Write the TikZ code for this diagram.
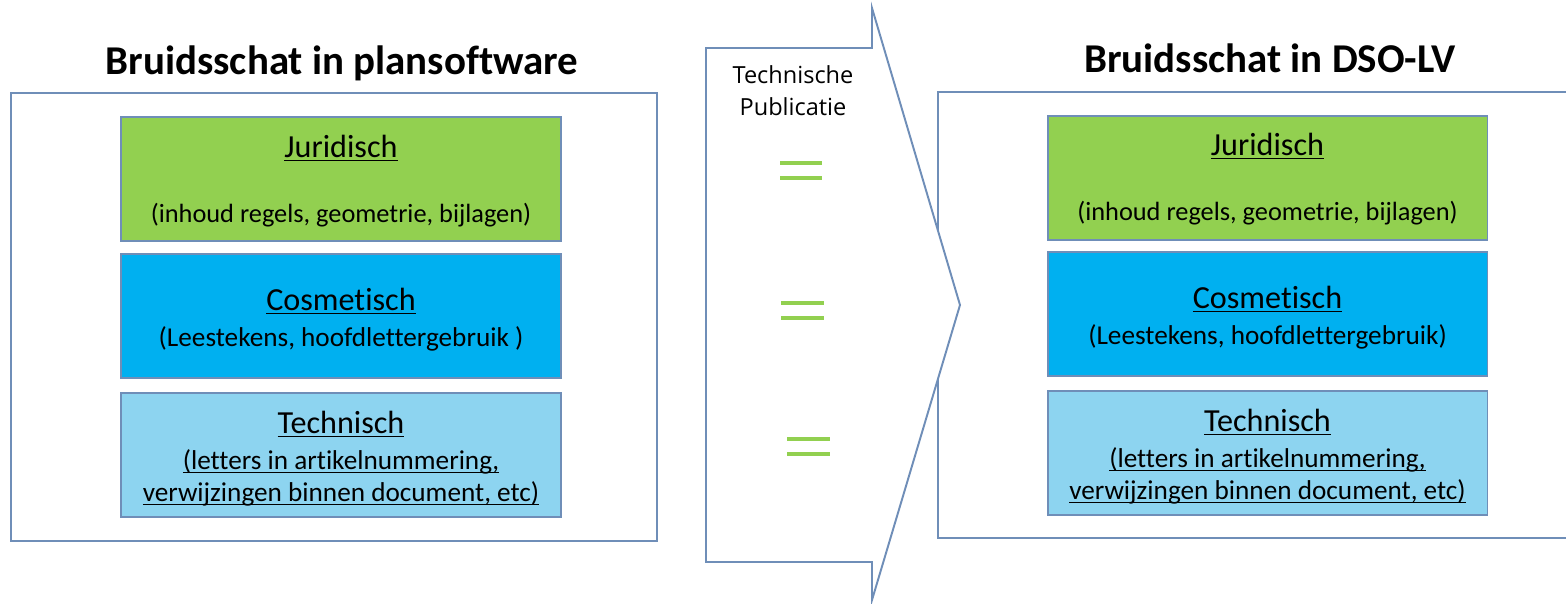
\documentclass[tikz,border=0pt]{standalone}
\usepackage{fontspec}
\setmainfont[Ligatures=NoCommon]{Carlito}
\newfontfamily\pubfont{Open Sans}
\definecolor{rand}{HTML}{6F8EB8}
\definecolor{groen}{HTML}{92D050}
\definecolor{blauw}{HTML}{00B0F0}
\definecolor{lichtblauw}{HTML}{8DD4F0}
\newcommand\onder[1]{\setbox0\hbox{#1}\rlap{\rule[-2.5pt]{\wd0}{0.9pt}}\box0}
\tikzset{
  blok/.style={draw=rand, line width=1.1pt, minimum width=8.8cm, minimum height=2.48cm, inner sep=0pt},
  kop/.style={anchor=base, inner sep=0pt, font=\fontsize{23.3}{28}\selectfont\bfseries},
  soort/.style={anchor=base, inner sep=0pt, font=\fontsize{18.3}{22}\selectfont},
  tekst/.style={anchor=base, inner sep=0pt, font=\fontsize{15.5}{18}\selectfont},
  pub/.style={anchor=base, inner sep=0pt, font=\pubfont\fontsize{13.4}{16}\selectfont},
  gelijk/.style={draw=groen, line width=2.2pt},
}

\begin{document}
\begin{tikzpicture}[x=0.02cm, y=-0.02cm]
\useasboundingbox (0,0) rectangle (1566,603);
% links: plansoftware
\node[kop] (kopL) at (342,74) {Bruidsschat in plansoftware};
\draw[draw=rand, line width=1.1pt] (11,93) rectangle (657,541);
\node[blok, fill=groen] (jurL) at (341,179) {};
\node[soort] (jurLa) at (341,157) {\onder{Juridisch}};
\node[tekst, font=\fontsize{15}{18}\selectfont] (jurLb) at (341,222) {(inhoud regels, geometrie, bijlagen)};
\node[blok, fill=blauw] (cosL) at (341,316) {};
\node[soort] (cosLa) at (341,310) {\onder{Cosmetisch}};
\node[tekst] (cosLb) at (341,346) {(Leestekens, hoofdlettergebruik )};
\node[blok, fill=lichtblauw] (tecL) at (341,455) {};
\node[soort] (tecLa) at (341,433) {\onder{Technisch}};
\node[tekst] (tecLb) at (341,469) {\onder{(letters in artikelnummering,}};
\node[tekst] (tecLc) at (341,501) {\onder{verwijzingen binnen document, etc)}};
% rechts: DSO-LV
\node[kop] (kopR) at (1270,72) {Bruidsschat in DSO-LV};
\draw[draw=rand, line width=1.1pt] (1566,92) -- (938,92) -- (938,538) -- (1566,538);
\node[blok, fill=groen] (jurR) at (1267.5,178) {};
\node[soort] (jurRa) at (1267.5,155) {\onder{Juridisch}};
\node[tekst, font=\fontsize{15}{18}\selectfont] (jurRb) at (1267.5,220) {(inhoud regels, geometrie, bijlagen)};
\node[blok, fill=blauw] (cosR) at (1267.5,314) {};
\node[soort] (cosRa) at (1267.5,308) {\onder{Cosmetisch}};
\node[tekst] (cosRb) at (1267.5,344) {(Leestekens, hoofdlettergebruik)};
\node[blok, fill=lichtblauw] (tecR) at (1267.5,453) {};
\node[soort] (tecRa) at (1267.5,431) {\onder{Technisch}};
\node[tekst] (tecRb) at (1267.5,467) {\onder{(letters in artikelnummering,}};
\node[tekst] (tecRc) at (1267.5,499) {\onder{verwijzingen binnen document, etc)}};
% pijl
\draw[draw=rand, line width=1.1pt, fill=white] (706,48) -- (872,48) -- (872,8) -- (960,305) -- (872,600) -- (872,562) -- (706,562) -- cycle;
\node[pub] (pubA) at (793,83) {Technische};
\node[pub] (pubB) at (793,115) {Publicatie};
\draw[gelijk] (780,163) -- (822,163);
\draw[gelijk] (780,178) -- (822,178);
\draw[gelijk] (781,303) -- (824,303);
\draw[gelijk] (781,318) -- (824,318);
\draw[gelijk] (787,439) -- (830,439);
\draw[gelijk] (787,454) -- (830,454);
\end{tikzpicture}
\end{document}
